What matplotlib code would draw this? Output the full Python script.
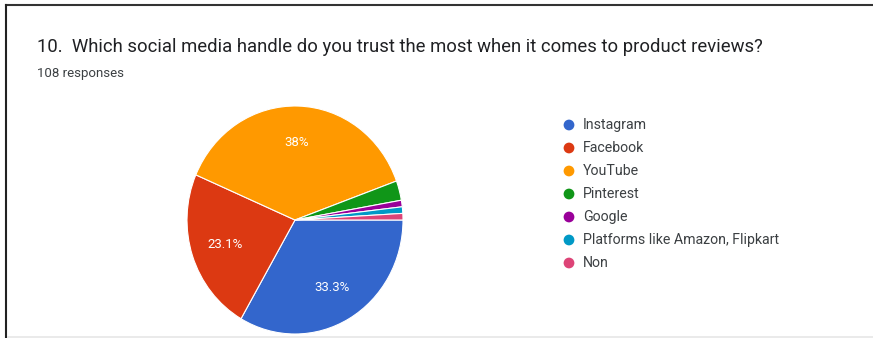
import matplotlib.pyplot as plt
from matplotlib.lines import Line2D

# data (108 responses)
labels = ['Instagram', 'Facebook', 'YouTube', 'Pinterest', 'Google',
          'Platforms like Amazon, Flipkart', 'Non']
counts = [36, 25, 41, 3, 1, 1, 1]
colors = ['#3366cc', '#dc3912', '#ff9900', '#109618', '#990099', '#0099c6', '#dd4477']

title = '10.  Which social media handle do you trust the most when it comes to product reviews?'
subtitle = '108 responses'

plt.rcParams['font.family'] = ['Roboto', 'DejaVu Sans']

W, H = 873, 338
fig = plt.figure(figsize=(W / 100, H / 100), dpi=100)


def px(x0, y0, x1, y1):
    # pixel box (top-down) -> figure fraction rect
    return [x0 / W, 1 - y1 / H, (x1 - x0) / W, (y1 - y0) / H]


# frame lines of the screenshot card
fig.add_artist(Line2D([6 / W, 1], [1 - 5 / H, 1 - 5 / H], color='#333333', lw=1.5))
fig.add_artist(Line2D([6 / W, 6 / W], [0, 1 - 5 / H], color='#222222', lw=1.5))
fig.add_artist(Line2D([8 / W, 1], [1.5 / H, 1.5 / H], color='#e6e6e6', lw=1.2))

fig.text(37 / W, 1 - 52 / H, title, fontsize=13.3, color='#202124', va='baseline')
fig.text(37 / W, 1 - 77 / H, subtitle, fontsize=9.5, color='#3c4043', va='baseline')


def pct(p):
    if p < 5:
        return ''
    s = f'{p:.1f}'
    return (s[:-2] if s.endswith('.0') else s) + '%'


ax = fig.add_axes(px(187, 106, 403, 334))
wedges, texts, autotexts = ax.pie(counts, colors=colors, startangle=0, counterclock=False,
                                  autopct=pct, pctdistance=0.68,
                                  wedgeprops=dict(edgecolor='white', linewidth=0.8),
                                  textprops=dict(color='white', fontsize=9.5))
ax.set_xlim(-1.0, 1.0)
ax.set_ylim(-1.0, 1.0)
ax.set_aspect('auto')
ax.axis('off')

# legend as circles + text
lax = fig.add_axes([0, 0, 1, 1])
lax.set_xlim(0, W)
lax.set_ylim(H, 0)
lax.axis('off')
for i, (lab, c) in enumerate(zip(labels, colors)):
    y = 125 + i * 23
    lax.scatter([569], [y], s=60, color=c, edgecolors='none')
    lax.text(583, y, lab, fontsize=10.2, color='#3c4043', va='center')

fig.savefig('out.png', dpi=100, facecolor='white')
